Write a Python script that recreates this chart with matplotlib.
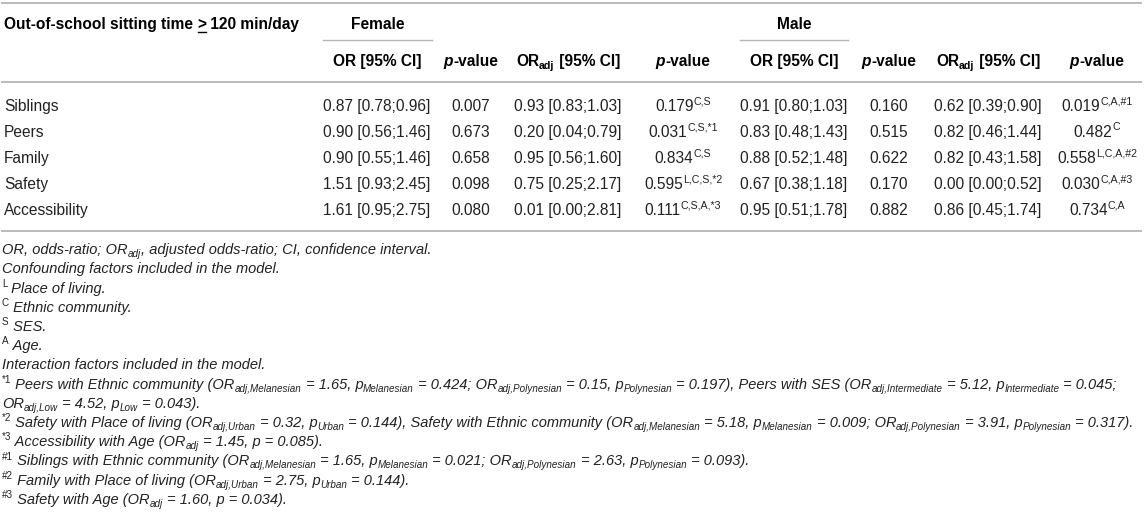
import re
import matplotlib.pyplot as plt
from matplotlib.font_manager import FontProperties

plt.rcParams['font.family'] = ['Liberation Sans', 'DejaVu Sans']

# ---- table data ----
rows = ["Siblings", "Peers", "Family", "Safety", "Accessibility"]
f_or = ["0.87 [0.78;0.96]", "0.90 [0.56;1.46]", "0.90 [0.55;1.46]", "1.51 [0.93;2.45]", "1.61 [0.95;2.75]"]
f_p = ["0.007", "0.673", "0.658", "0.098", "0.080"]
f_oradj = ["0.93 [0.83;1.03]", "0.20 [0.04;0.79]", "0.95 [0.56;1.60]", "0.75 [0.25;2.17]", "0.01 [0.00;2.81]"]
f_padj = ["0.179", "0.031", "0.834", "0.595", "0.111"]
f_padj_sup = ["C,S", "C,S,*1", "C,S", "L,C,S,*2", "C,S,A,*3"]
m_or = ["0.91 [0.80;1.03]", "0.83 [0.48;1.43]", "0.88 [0.52;1.48]", "0.67 [0.38;1.18]", "0.95 [0.51;1.78]"]
m_p = ["0.160", "0.515", "0.622", "0.170", "0.882"]
m_oradj = ["0.62 [0.39;0.90]", "0.82 [0.46;1.44]", "0.82 [0.43;1.58]", "0.00 [0.00;0.52]", "0.86 [0.45;1.74]"]
m_padj = ["0.019", "0.482", "0.558", "0.030", "0.734"]
m_padj_sup = ["C,A,#1", "C", "L,C,A,#2", "C,A,#3", "C,A"]

title = "Out-of-school sitting time > 120 min/day"
groups = ["Female", "Male"]

notes = [
    "OR, odds-ratio; OR_{adj}, adjusted odds-ratio; CI, confidence interval.",
    "Confounding factors included in the model.",
    "^{L} Place of living.",
    "^{C} Ethnic community.",
    "^{S} SES.",
    "^{A} Age.",
    "Interaction factors included in the model.",
    "^{*1} Peers with Ethnic community (OR_{adj,Melanesian} = 1.65, p_{Melanesian} = 0.424; OR_{adj,Polynesian} = 0.15, "
    "p_{Polynesian} = 0.197), Peers with SES (OR_{adj,Intermediate} = 5.12, p_{Intermediate} = 0.045;",
    "OR_{adj,Low} = 4.52, p_{Low} = 0.043).",
    "^{*2} Safety with Place of living (OR_{adj,Urban} = 0.32, p_{Urban} = 0.144), Safety with Ethnic community "
    "(OR_{adj,Melanesian} = 5.18, p_{Melanesian} = 0.009; OR_{adj,Polynesian} = 3.91, p_{Polynesian} = 0.317).",
    "^{*3} Accessibility with Age (OR_{adj} = 1.45, p = 0.085).",
    "^{#1} Siblings with Ethnic community (OR_{adj,Melanesian} = 1.65, p_{Melanesian} = 0.021; OR_{adj,Polynesian} = 2.63, "
    "p_{Polynesian} = 0.093).",
    "^{#2} Family with Place of living (OR_{adj,Urban} = 2.75, p_{Urban} = 0.144).",
    "^{#3} Safety with Age (OR_{adj} = 1.60, p = 0.034).",
]

W, H = 1146, 524
fig = plt.figure(figsize=(W / 100, H / 100), dpi=100)
ax = fig.add_axes([0, 0, 1, 1])
ax.set_xlim(0, W)
ax.set_ylim(H, 0)
ax.axis('off')
renderer = fig.canvas.get_renderer()

FS = 11.2
FS_NOTE = 10.5
TXT = '#222222'
RULE = '#b5b5b5'


def parse(s):
    out = []
    for m in re.finditer(r'([_^])\{([^}]*)\}|([^_^]+)', s):
        if m.group(3):
            out.append((m.group(3), 'n'))
        else:
            out.append((m.group(2), 'sub' if m.group(1) == '_' else 'sup'))
    return out


def width(s, fp):
    a = renderer.get_text_width_height_descent('|' + s + '|', fp, ismath=False)[0]
    b = renderer.get_text_width_height_descent('||', fp, ismath=False)[0]
    return a - b


def rich(x, yc, segs, size, weight='normal', style='normal', ha='left', color=TXT, sup_upright=False):
    # yc = vertical centre of capitals, in pixels
    px = size * 100 / 72
    y = yc + 0.36 * px
    items = []
    for seg in segs:
        text, kind = seg[0], seg[1]
        st = seg[2] if len(seg) > 2 else style
        if kind == 'sup' and sup_upright:
            st = 'normal'
        sz = size if kind == 'n' else size * 0.68
        fp = FontProperties(family=['Liberation Sans', 'DejaVu Sans'], size=sz, weight=weight, style=st)
        if kind == 'sup':
            dy = -0.40 * px
        elif kind == 'sub':
            dy = 0.20 * px
        else:
            dy = 0
        items.append((text, fp, dy, width(text, fp)))
    total = sum(i[3] for i in items)
    x0 = x - total / 2 if ha == 'center' else x
    pos = []
    for text, fp, dy, w in items:
        ax.text(x0, y + dy, text, fontproperties=fp, color=color, ha='left', va='baseline')
        pos.append((x0, w))
        x0 += w
    return pos, y


# ---- layout (pixels) ----
col_x = [377, 471, 568, 683, 794, 889, 988, 1097]
group_span = [(323, 432), (740, 848)]
y_title = 23
y_group_line = 40
y_head = 60
y_rows = [105, 131, 157, 183, 209]
y_note0 = 249
note_step = 19.2

# rules
for y in (3, 82, 231):
    ax.plot([1, 1142], [y, y], color=RULE, lw=1.3, solid_capstyle='butt')

# header row 1
parts = title.split('>')
pos, base = rich(4, y_title, [(parts[0], 'n'), ('>', 'n'), (parts[1], 'n')], FS, weight='bold', color='black')
gx, gw = pos[1]
ax.plot([gx + 0.5, gx + gw - 0.5], [base + 3, base + 3], color='black', lw=1.0)
for g, (a, b) in zip(groups, group_span):
    rich((a + b) / 2, y_title, [(g, 'n')], FS, weight='bold', ha='center', color='black')
    ax.plot([a, b], [y_group_line, y_group_line], color=RULE, lw=1.0)

# header row 2
head = [
    [("OR [95% CI]", 'n')],
    [("p", 'n', 'italic'), ("-value", 'n')],
    parse("OR_{adj} [95% CI]"),
    [("p", 'n', 'italic'), ("-value", 'n')],
]
for i, h in enumerate(head + head):
    rich(col_x[i], y_head, h, FS, weight='bold', ha='center', color='black')

# body rows
for r, y in enumerate(y_rows):
    rich(4, y, [(rows[r], 'n')], FS)
    cells = [
        [(f_or[r], 'n')], [(f_p[r], 'n')], [(f_oradj[r], 'n')], [(f_padj[r], 'n'), (f_padj_sup[r], 'sup')],
        [(m_or[r], 'n')], [(m_p[r], 'n')], [(m_oradj[r], 'n')], [(m_padj[r], 'n'), (m_padj_sup[r], 'sup')],
    ]
    for c, segs in enumerate(cells):
        rich(col_x[c], y, segs, FS, ha='center')

# footnotes
for i, line in enumerate(notes):
    rich(2, y_note0 + i * note_step, parse(line), FS_NOTE, style='italic', sup_upright=True)

fig.savefig('out.png', dpi=100)
